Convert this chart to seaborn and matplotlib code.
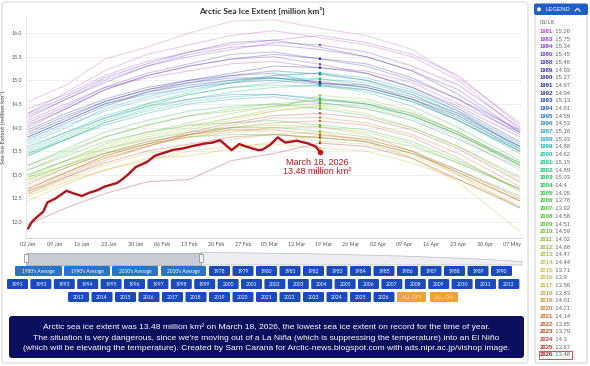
import matplotlib
matplotlib.use("Agg")
import matplotlib.pyplot as plt
import seaborn as sns
import pandas as pd
from matplotlib.patches import FancyBboxPatch, Rectangle, Polygon

W, H = 590, 366

# ---------------- data ----------------
# x = days after 02 Jan (leap-year axis), sampled dates
days = [0, 10, 20, 31, 42, 53, 64, 76, 88, 100, 112, 128]

years_1979_1989 = [1979, 1980, 1981, 1982, 1983, 1984, 1985, 1986, 1987, 1988, 1989]
ext_1979_1989 = [
    [14.55, 14.90, 15.45, 15.70, 16.00, 16.25, 16.28, 16.10, 15.95, 15.65, 15.05, 14.10],
    [14.30, 14.75, 15.20, 15.55, 15.75, 15.95, 16.05, 15.90, 15.75, 15.50, 15.00, 13.95],
    [14.15, 14.50, 14.85, 15.05, 15.20, 15.35, 15.40, 15.26, 15.20, 14.95, 14.50, 13.90],
    [14.40, 14.70, 15.10, 15.40, 15.60, 15.75, 15.85, 15.95, 15.80, 15.55, 15.10, 14.05],
    [14.20, 14.60, 15.00, 15.30, 15.50, 15.65, 15.80, 15.75, 15.60, 15.30, 14.90, 14.00],
    [14.00, 14.40, 14.80, 15.10, 15.30, 15.45, 15.50, 15.34, 15.15, 14.85, 14.45, 13.80],
    [14.25, 14.60, 14.95, 15.30, 15.55, 15.70, 15.75, 15.65, 15.50, 15.20, 14.80, 13.90],
    [14.10, 14.45, 14.85, 15.15, 15.35, 15.55, 15.60, 15.45, 15.30, 15.00, 14.60, 13.95],
    [14.30, 14.65, 15.05, 15.35, 15.60, 15.80, 15.85, 15.70, 15.50, 15.20, 14.70, 13.90],
    [14.05, 14.40, 14.80, 15.10, 15.30, 15.45, 15.55, 15.46, 15.35, 15.05, 14.60, 13.85],
    [13.95, 14.30, 14.60, 14.85, 15.00, 15.10, 15.15, 14.93, 14.90, 14.65, 14.30, 13.60],
]

years_1990_1999 = [1990, 1991, 1992, 1993, 1994, 1995, 1996, 1997, 1998, 1999]
ext_1990_1999 = [
    [13.85, 14.20, 14.55, 14.80, 15.00, 15.15, 15.30, 15.27, 15.15, 14.85, 14.40, 13.70],
    [13.80, 14.15, 14.50, 14.75, 14.90, 15.00, 15.05, 14.97, 14.85, 14.60, 14.20, 13.55],
    [13.90, 14.25, 14.55, 14.80, 14.95, 15.05, 15.05, 14.94, 14.85, 14.60, 14.25, 13.60],
    [13.75, 14.10, 14.45, 14.75, 14.95, 15.10, 15.20, 15.13, 15.00, 14.75, 14.35, 13.65],
    [13.80, 14.15, 14.50, 14.70, 14.85, 14.95, 15.00, 14.91, 14.80, 14.55, 14.15, 13.50],
    [13.60, 13.90, 14.20, 14.45, 14.60, 14.70, 14.70, 14.59, 14.50, 14.25, 13.85, 13.20],
    [13.45, 13.75, 14.05, 14.30, 14.50, 14.60, 14.65, 14.53, 14.40, 14.15, 13.75, 13.15],
    [13.65, 14.00, 14.40, 14.65, 14.85, 15.00, 15.10, 15.16, 15.05, 14.80, 14.35, 13.55],
    [13.70, 14.05, 14.35, 14.60, 14.80, 14.95, 15.05, 15.03, 14.95, 14.70, 14.30, 13.60],
    [13.55, 13.90, 14.25, 14.50, 14.70, 14.85, 14.90, 14.88, 14.80, 14.55, 14.15, 13.50],
]

years_2000_2009 = [2000, 2001, 2002, 2003, 2004, 2005, 2006, 2007, 2008, 2009]
ext_2000_2009 = [
    [13.40, 13.75, 14.10, 14.35, 14.55, 14.65, 14.70, 14.62, 14.50, 14.25, 13.85, 13.25],
    [13.50, 13.85, 14.20, 14.50, 14.75, 14.95, 15.10, 15.15, 15.00, 14.70, 14.25, 13.50],
    [13.40, 13.75, 14.10, 14.40, 14.60, 14.75, 14.85, 14.89, 14.75, 14.45, 14.00, 13.30],
    [13.45, 13.80, 14.15, 14.45, 14.70, 14.85, 14.95, 15.03, 14.90, 14.60, 14.15, 13.45],
    [13.20, 13.55, 13.90, 14.15, 14.35, 14.45, 14.50, 14.40, 14.25, 14.00, 13.60, 12.95],
    [13.10, 13.40, 13.70, 13.90, 14.05, 14.10, 14.15, 14.05, 13.95, 13.70, 13.30, 12.70],
    [12.95, 13.20, 13.45, 13.65, 13.80, 13.85, 13.85, 13.78, 13.70, 13.45, 13.10, 12.55],
    [13.00, 13.30, 13.55, 13.75, 13.90, 14.00, 14.00, 13.92, 13.80, 13.60, 13.25, 12.70],
    [13.10, 13.45, 13.80, 14.05, 14.25, 14.40, 14.50, 14.58, 14.50, 14.30, 13.90, 13.25],
    [13.20, 13.50, 13.80, 14.05, 14.25, 14.35, 14.45, 14.51, 14.45, 14.25, 13.85, 13.20],
]

years_2010_2019 = [2010, 2011, 2012, 2013, 2014, 2015, 2016, 2017, 2018, 2019]
ext_2010_2019 = [
    [13.00, 13.30, 13.65, 13.90, 14.10, 14.30, 14.45, 14.59, 14.55, 14.30, 13.90, 13.25],
    [12.85, 13.15, 13.45, 13.70, 13.85, 14.00, 14.05, 14.02, 13.90, 13.65, 13.25, 12.70],
    [12.90, 13.20, 13.55, 13.80, 14.00, 14.20, 14.40, 14.68, 14.60, 14.35, 13.90, 13.20],
    [12.95, 13.30, 13.60, 13.85, 14.05, 14.20, 14.35, 14.47, 14.40, 14.20, 13.80, 13.10],
    [12.90, 13.20, 13.50, 13.75, 13.95, 14.15, 14.35, 14.44, 14.30, 14.00, 13.60, 12.90],
    [12.75, 13.05, 13.35, 13.60, 13.80, 13.95, 13.90, 13.71, 13.65, 13.40, 13.00, 12.45],
    [12.60, 12.90, 13.20, 13.45, 13.60, 13.75, 13.85, 13.90, 13.70, 13.35, 12.85, 11.80],
    [12.45, 12.80, 13.10, 13.30, 13.50, 13.60, 13.65, 13.56, 13.50, 13.25, 12.90, 12.35],
    [12.55, 12.85, 13.10, 13.35, 13.40, 13.55, 13.70, 13.83, 13.75, 13.50, 13.05, 12.45],
    [12.70, 13.05, 13.40, 13.65, 13.80, 13.90, 14.00, 14.01, 13.85, 13.50, 13.00, 12.30],
]

years_2020_2025 = [2020, 2021, 2022, 2023, 2024, 2025]
ext_2020_2025 = [
    [12.65, 13.00, 13.35, 13.60, 13.85, 14.05, 14.20, 14.21, 14.10, 13.85, 13.45, 12.75],
    [12.60, 12.95, 13.30, 13.60, 13.85, 14.00, 14.10, 14.14, 14.05, 13.80, 13.35, 12.65],
    [12.80, 13.15, 13.45, 13.70, 13.85, 13.95, 13.95, 13.85, 13.75, 13.50, 13.10, 12.50],
    [12.65, 12.95, 13.25, 13.50, 13.65, 13.80, 13.85, 13.79, 13.70, 13.45, 13.05, 12.45],
    [12.70, 13.05, 13.40, 13.65, 13.90, 14.10, 14.25, 14.30, 14.20, 13.95, 13.55, 12.85],
    [11.95, 12.30, 12.60, 12.85, 12.90, 13.30, 13.45, 13.67, 13.60, 13.35, 12.90, 12.30],
]

days_2026 = [0, 1, 2, 4, 5, 7, 9, 10, 12, 14, 16, 18, 20, 23, 24, 26, 28, 31, 33, 36,
             38, 40, 43, 46, 48, 50, 51, 53, 55, 57, 60, 61, 63, 65, 67, 70, 71, 73, 75, 76]
ext_2026 = [11.86, 12.00, 12.08, 12.22, 12.41, 12.49, 12.60, 12.66, 12.60, 12.55, 12.62, 12.67,
            12.75, 12.82, 12.87, 13.00, 13.16, 13.27, 13.40, 13.48, 13.53, 13.55, 13.61, 13.66,
            13.68, 13.73, 13.66, 13.52, 13.65, 13.59, 13.52, 13.53, 13.63, 13.79, 13.68, 13.72,
            13.70, 13.66, 13.59, 13.48]

legend_years = [1981, 1983, 1984, 1986, 1988, 1989, 1990, 1991, 1992, 1993, 1994, 1995, 1996,
                1997, 1998, 1999, 2000, 2001, 2002, 2003, 2004, 2005, 2006, 2007, 2008, 2009,
                2010, 2011, 2012, 2013, 2014, 2015, 2016, 2017, 2018, 2019, 2020, 2021, 2022,
                2023, 2024, 2025, 2026]
legend_values = [15.26, 15.75, 15.34, 15.45, 15.46, 14.93, 15.27, 14.97, 14.94, 15.13, 14.91,
                 14.59, 14.53, 15.16, 15.03, 14.88, 14.62, 15.15, 14.89, 15.03, 14.4, 14.05,
                 13.78, 13.92, 14.58, 14.51, 14.59, 14.02, 14.68, 14.47, 14.44, 13.71, 13.9,
                 13.56, 13.83, 14.01, 14.21, 14.14, 13.85, 13.79, 14.3, 13.67, 13.48]
legend_day = 76

tick_days = [0, 7, 14, 21, 28, 35, 42, 49, 56, 63, 70, 77, 84, 91, 98, 105, 112, 119, 126]
tick_labels = ["02 Jan", "09 Jan", "16 Jan", "23 Jan", "30 Jan", "06 Feb", "13 Feb", "20 Feb",
               "27 Feb", "05 Mar", "12 Mar", "19 Mar", "26 Mar", "02 Apr", "09 Apr", "16 Apr",
               "23 Apr", "30 Apr", "07 May"]
y_ticks = [12.0, 12.5, 13.0, 13.5, 14.0, 14.5, 15.0, 15.5, 16.0]

line_colors = [
    "#c86ad0", "#c060cc", "#b048c0", "#a050cc", "#9040c8", "#8040c4", "#7040c0", "#6040bc",
    "#5038b4", "#4438ac", "#38309c", "#2c2c8c", "#242a84", "#22348f", "#2046a4", "#1e58b4",
    "#2070c0", "#2088c8", "#20a0cc", "#18b0c4", "#10b4a8", "#10b890", "#14b878", "#18b868",
    "#1cb858", "#24b848", "#2cb840", "#38b838", "#44b834", "#50b830", "#5cb830", "#6cbc30",
    "#7cc030", "#90c030", "#a4c430", "#b4c430", "#c4c430", "#d0bc28", "#d8b028", "#dca028",
    "#d89028", "#d07c28", "#c46828", "#b85828", "#b04828", "#c03c30", "#b02828", "#b5121b",
]
all_years = list(range(1979, 2027))
color_of = dict(zip(all_years, line_colors))

# ---------------- build long table ----------------
rows = []
for yrs, ext in [(years_1979_1989, ext_1979_1989), (years_1990_1999, ext_1990_1999),
                 (years_2000_2009, ext_2000_2009), (years_2010_2019, ext_2010_2019),
                 (years_2020_2025, ext_2020_2025)]:
    for y, vals in zip(yrs, ext):
        for d, v in zip(days, vals):
            rows.append((y, d, v))
df = pd.DataFrame(rows, columns=["year", "day", "extent"])
df26 = pd.DataFrame({"day": days_2026, "extent": ext_2026})
dfleg = pd.DataFrame({"year": legend_years, "day": legend_day, "extent": legend_values})

# ---------------- figure ----------------
sns.set_theme(style="white")
plt.rcParams["font.family"] = ["Lato", "DejaVu Sans"]
fig = plt.figure(figsize=(W / 100, H / 100), dpi=100)
fig.patch.set_facecolor("white")

ov = fig.add_axes([0, 0, 1, 1], zorder=0)
ov.set_xlim(0, W)
ov.set_ylim(H, 0)
ov.axis("off")

def px_axes(x0, y0, x1, y1, **kw):
    return fig.add_axes([x0 / W, 1 - y1 / H, (x1 - x0) / W, (y1 - y0) / H], **kw)

# card border
ov.add_patch(FancyBboxPatch((2, 2), 526, 361, boxstyle="round,pad=0,rounding_size=3",
                            fc="none", ec="#d9d9d9", lw=0.8))

ax = px_axes(26, 17, 522, 238, zorder=2)
ax.set_facecolor("white")
ax.set_xlim(-0.52, 128.6)
ax.set_ylim(11.66, 16.34)

sns.lineplot(data=df, x="day", y="extent", hue="year", palette=color_of, estimator=None,
             sort=False, legend=False, lw=0.75, alpha=0.33, ax=ax)
sns.lineplot(data=df26, x="day", y="extent", color="#b5121b", lw=1.7, estimator=None,
             sort=False, legend=False, ax=ax, zorder=5)
sns.scatterplot(data=dfleg, x="day", y="extent", hue="year", palette=color_of, s=3,
                linewidth=0, legend=False, ax=ax, zorder=6)
ax.scatter([days_2026[-1]], [ext_2026[-1]], s=16, color="#c0141c", zorder=7, linewidths=0)

ax.text(75.3, 13.26, "March 18, 2026", ha="center", va="center", color="#c0141c",
        fontsize=6.5, family="Liberation Sans")
ax.text(75.3, 13.07, "13.48 million km²", ha="center", va="center", color="#c0141c",
        fontsize=6.5, family="Liberation Sans")

ax.set_xticks(tick_days)
ax.set_xticklabels(tick_labels, fontsize=3.9, color="#555555")
ax.set_yticks(y_ticks)
ax.set_yticklabels([f"{v:.1f}" for v in y_ticks], fontsize=3.9, color="#555555")
ax.tick_params(axis="both", length=0, pad=3)
ax.grid(axis="y", color="#eeeeee", lw=0.6)
ax.set_axisbelow(True)
for s in ["top", "right"]:
    ax.spines[s].set_visible(False)
ax.spines["left"].set_color("#e0e0e0")
ax.spines["bottom"].set_color("#cccccc")
ax.spines["left"].set_linewidth(0.6)
ax.spines["bottom"].set_linewidth(0.6)
ax.set_xlabel("")
ax.set_ylabel("Sea Ice Extent [million km²]", fontsize=4.4, color="#555555", labelpad=4)

fig.text(262 / W, 1 - 11 / H, "Arctic Sea Ice Extent [million km²]", ha="center", va="center",
         fontsize=6.0, fontweight="bold", color="#333333")

# navigator
ov.add_patch(Polygon([(201, 265), (201, 252.5), (300, 253.5), (400, 256), (470, 258.5),
                      (522, 261.5), (522, 265)], closed=True, fc="#eceef2", ec="#b8bcc6", lw=0.5))
ov.add_patch(Rectangle((26, 252.5), 175, 12, fc="#c9ccd5", ec="#9a9ea8", lw=0.5))
for hx in (26, 201):
    ov.add_patch(Rectangle((hx - 1.8, 254), 3.6, 8, fc="#f4f4f4", ec="#888888", lw=0.5))

# buttons
def button(x0, x1, y0, y1, label, fc, tc="white", fs=3.6):
    ov.add_patch(FancyBboxPatch((x0, y0), x1 - x0, y1 - y0,
                                boxstyle="round,pad=0,rounding_size=1.2", fc=fc, ec="none"))
    ov.text((x0 + x1) / 2, (y0 + y1) / 2 + 0.3, label, ha="center", va="center", color=tc,
            fontsize=fs)

avg_labels = ["1980's Average", "1990's Average", "2000's Average", "2010's Average"]
avg_x = [(15, 62), (64, 110), (112, 158), (161, 206)]
for (a, b), lab in zip(avg_x, avg_labels):
    button(a, b, 266, 276, lab, "#2a74c6", fs=3.4)
for i, yv in enumerate(range(1978, 1991)):
    button(209 + i * 23.5, 230 + i * 23.5, 266, 276, str(yv), "#1a4bbd")
for i, yv in enumerate(range(1991, 2013)):
    button(7 + i * 23.4, 28 + i * 23.4, 279, 289, str(yv), "#1a4bbd")
for i, yv in enumerate(range(2013, 2027)):
    button(68 + i * 23.5, 89 + i * 23.5, 292, 302, str(yv), "#1a4bbd")
button(397, 426, 292, 302, "ALL OFF", "#f5a030", tc="#fde4bd")
button(430, 458, 292, 302, "ALL ON", "#f5a030", tc="#fde4bd")

# bottom text box
ov.add_patch(FancyBboxPatch((9, 316), 515, 42, boxstyle="round,pad=0,rounding_size=3",
                            fc="#0c0f5e", ec="none"))
box_lines = [
    "Arctic sea ice extent was 13.48 million km² on March 18, 2026, the lowest sea ice extent on record for the time of year.",
    "The situation is very dangerous, since we're moving out of a La Niña (which is suppressing the temperature) into an El Niño",
    "(which will be elevating the temperature). Created by Sam Carana for Arctic-news.blogspot.com with ads.nipr.ac.jp/vishop image.",
]
for i, t in enumerate(box_lines):
    ov.text(266.5, 327 + i * 11, t, ha="center", va="center", color="white", fontsize=6.1,
            family="Liberation Sans")

# legend panel
ov.add_patch(FancyBboxPatch((535, 14), 52, 349, boxstyle="round,pad=0,rounding_size=2",
                            fc="white", ec="#c8c8c8", lw=0.6))
ov.add_patch(FancyBboxPatch((534, 3.5), 54, 11.5, boxstyle="round,pad=0,rounding_size=2",
                            fc="#1d5fc4", ec="none"))
ov.add_patch(plt.Circle((539, 9.3), 2.0, fc="white", ec="none"))
ov.text(545, 9.6, "LEGEND", color="white", fontsize=4.3, va="center", ha="left",
        family="Liberation Sans")
ov.plot([575, 577.5, 580], [11, 8.3, 11], color="white", lw=0.8)
ov.text(540, 22.5, "03/18:", color="#666666", fontsize=4.2, va="center", ha="left",
        family="Liberation Sans")
for i, (yr, val) in enumerate(zip(legend_years, legend_values)):
    yy = 31.5 + i * 7.7
    ov.text(540, yy, str(yr), color=color_of[yr], fontsize=4.2, va="center", ha="left",
            fontweight="bold", family="Liberation Sans")
    ov.text(552, yy, f": {val:g}", color="#666666", fontsize=4.2, va="center", ha="left",
            family="Liberation Sans")
yy26 = 31.5 + (len(legend_years) - 1) * 7.7
ov.add_patch(Rectangle((538.5, yy26 - 4.3), 33, 8.6, fc="none", ec="#d03030", lw=0.6))

fig.savefig("out.png", dpi=100)
